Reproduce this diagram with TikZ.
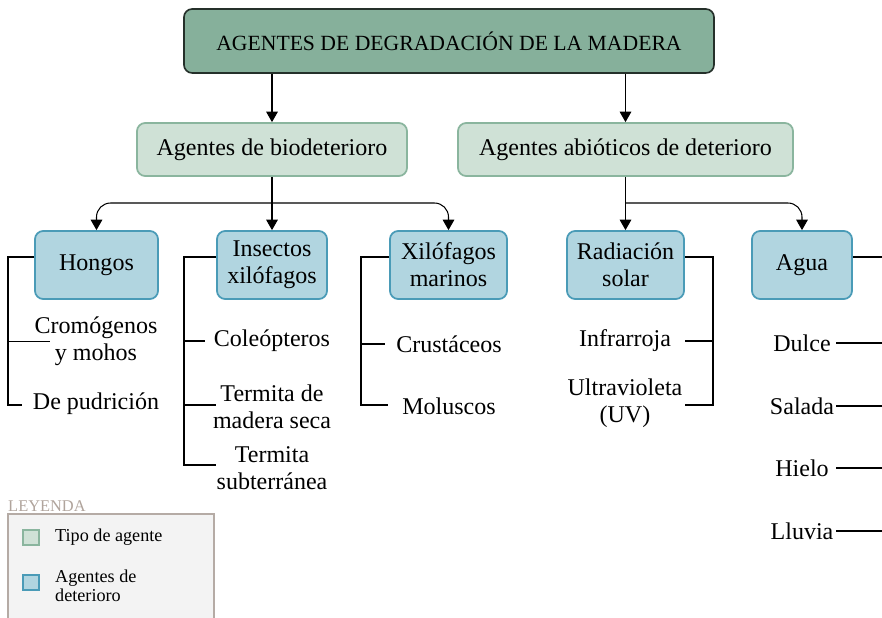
\documentclass[tikz,border=0pt]{standalone}
\usepackage{fontspec}
\setmainfont{Liberation Serif}
\usetikzlibrary{arrows.meta}

\definecolor{titlefill}{HTML}{86B09B}
\definecolor{titleline}{HTML}{25302A}
\definecolor{typefill}{HTML}{CFE1D6}
\definecolor{typeline}{HTML}{8AB59E}
\definecolor{agentfill}{HTML}{B1D5E0}
\definecolor{agentline}{HTML}{4A9BB7}
\definecolor{legfill}{HTML}{F3F3F3}
\definecolor{legline}{HTML}{B5ABA5}
\definecolor{legtext}{HTML}{B0A49C}

\newcommand{\itemfont}{\fontsize{20.5}{23}\selectfont}

\tikzset{
  titlebox/.style={draw=titleline, fill=titlefill, line width=1.4pt, rounded corners=7pt,
    font=\fontsize{18.5}{22}\selectfont, inner sep=2pt},
  typebox/.style={draw=typeline, fill=typefill, line width=1.5pt, rounded corners=7pt,
    font=\itemfont, inner sep=2pt, minimum height=1.59cm},
  agentbox/.style={draw=agentline, fill=agentfill, line width=1.5pt, rounded corners=7pt,
    font=\itemfont, align=center, inner sep=2pt, minimum height=2.04cm},
  item/.style={font=\itemfont, align=center, inner sep=2pt},
  conn/.style={line width=0.9pt},
  arr/.style={conn, -{Triangle[width=10pt,length=9pt]}},
  swatch/.style={line width=1.3pt, minimum width=0.48cm, minimum height=0.45cm, inner sep=0pt},
  legitem/.style={font=\fontsize{15.5}{16.5}\selectfont, align=left, inner sep=0pt, anchor=west},
}

\begin{document}
\begin{tikzpicture}[x=0.03cm,y=-0.03cm]
  \clip (0,0) rectangle (882,618);

  % top and type boxes
  \node[titlebox, minimum width=15.9cm, minimum height=1.92cm] (title) at (449,41)
    {AGENTES DE DEGRADACIÓN DE LA MADERA};
  \node[typebox, minimum width=8.1cm] (bio) at (272,149.5) {Agentes de biodeterioro};
  \node[typebox, minimum width=10.05cm] (abio) at (625.5,149.5) {Agentes abióticos de deterioro};

  % agent boxes
  \begin{scope}[every node/.style={agentbox}]
    \node[minimum width=3.69cm] (hongos) at (96.5,265) {Hongos};
    \node[minimum width=3.3cm] (insectos) at (272,265) {Insectos\\xilófagos};
    \node[minimum width=3.51cm] (marinos) at (448.5,265) {Xilófagos\\marinos};
    \node[minimum width=3.51cm] (radiacion) at (625.5,265) {Radiación\\solar};
    \node[minimum width=3.0cm] (agua) at (802,265) {Agua};
  \end{scope}

  % sub items
  \begin{scope}[every node/.style={item}]
    \node (cromo) at (96,341.5) {Cromógenos\\y mohos};
    \node (pudri) at (96,404) {De pudrición};
    \node (coleo) at (272,341) {Coleópteros};
    \node (tseca) at (272,406.5) {Termita de\\madera seca};
    \node (tsubt) at (272,468.5) {Termita\\subterránea};
    \node (crust) at (449,344) {Crustáceos};
    \node (molus) at (449,406) {Moluscos};
    \node (infra) at (625,341) {Infrarroja};
    \node (ultra) at (625,403.5) {Ultravioleta\\(UV)};
    \node (dulce) at (802,343) {Dulce};
    \node (salada) at (802,406) {Salada};
    \node (hielo) at (802,468) {Hielo};
    \node (lluvia) at (802,531) {Lluvia};
  \end{scope}

  % arrows
  \coordinate (bsplit) at (272,203);
  \coordinate (asplit) at (625.5,203);
  \draw[arr] (title.south -| bio.north) -- (bio.north);
  \draw[arr] (title.south -| abio.north) -- (abio.north);
  \draw[arr] (bio.south) -- (insectos.north);
  \draw[arr, rounded corners=12] (bsplit) -| (hongos.north);
  \draw[arr, rounded corners=12] (bsplit) -| (marinos.north);
  \draw[arr] (abio.south) -- (radiacion.north);
  \draw[arr, rounded corners=12] (asplit) -| (agua.north);

  % brackets
  \coordinate (hspine) at (8,405);
  \draw[conn] (hongos.west |- 0,257) -| (hspine) -- ++(14,0);
  \draw[conn] (cromo.west -| hspine) -- ++(42,0);

  \coordinate (ispine) at (184,465);
  \draw[conn] (insectos.west |- 0,257) -| (ispine) -- (ispine -| insectos.west);
  \draw[conn] (coleo.west -| ispine) -- ++(21,0);
  \draw[conn] (ispine |- 0,405) -- (insectos.west |- 0,405);

  \coordinate (mspine) at (361,405);
  \draw[conn] (marinos.west |- 0,257) -| (mspine) -- ++(27,0);
  \draw[conn] (crust.west -| mspine) -- ++(24,0);

  \coordinate (rspine) at (713,405);
  \draw[conn] (radiacion.east |- 0,257) -| (rspine) -- (rspine -| radiacion.east);
  \draw[conn] (infra.east -| rspine) -- (infra.east -| radiacion.east);

  \coordinate (aspine) at (900,531);
  \coordinate (atick) at (836,531);
  \draw[conn] (agua.east |- 0,257) -| (aspine);
  \draw[conn] (dulce -| atick) -- (dulce -| aspine);
  \draw[conn] (salada -| atick) -- (salada -| aspine);
  \draw[conn] (hielo -| atick) -- (hielo -| aspine);
  \draw[conn] (lluvia -| atick) -- (lluvia -| aspine);

  % legend
  \node[text=legtext, font=\fontsize{14}{16}\selectfont, anchor=base west, inner sep=0pt]
    (leyenda) at (8,511) {LEYENDA};
  \node[draw=legline, fill=legfill, line width=1.6pt, minimum width=6.18cm, minimum height=3.78cm]
    (legbox) at (111,577) {};
  \node[swatch, fill=typefill, draw=typeline] (swtype) at (31,537.5) {};
  \node[legitem] (lgtype) at (55,537.5) {Tipo de agente};
  \node[swatch, fill=agentfill, draw=agentline] (swagent) at (31,582.5) {};
  \node[legitem] (lgagent) at (55,586) {Agentes de\\deterioro};
\end{tikzpicture}
\end{document}
